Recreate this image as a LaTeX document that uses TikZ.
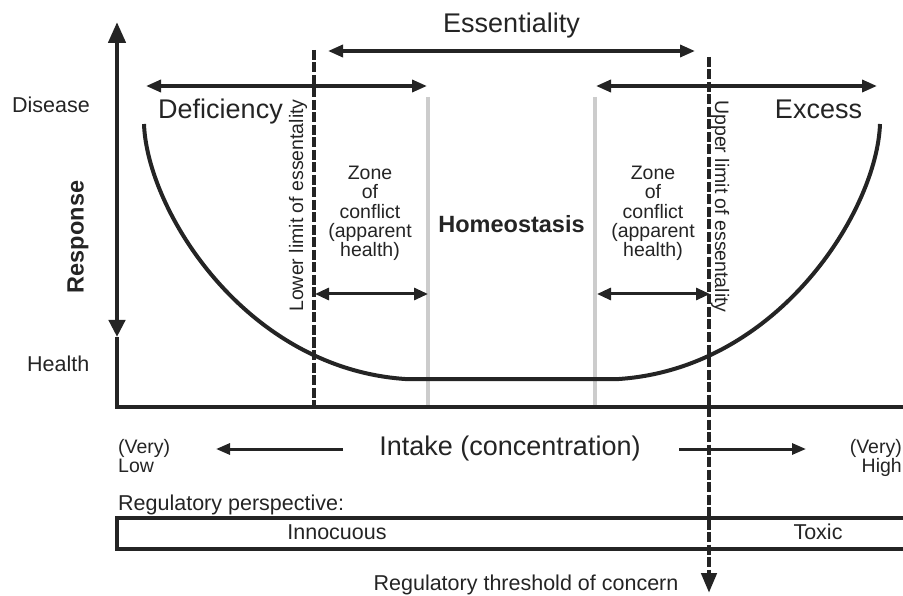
\documentclass[tikz,border=0pt]{standalone}
\usepackage{fontspec}
\setmainfont{Liberation Sans}
\usetikzlibrary{arrows.meta}
\definecolor{ink}{rgb}{.14,.14,.14}
\definecolor{zonegray}{rgb}{.8,.8,.8}

\begin{document}
\begin{tikzpicture}[x=1pt,y=-1pt,
    every node/.style={text=ink,inner sep=0pt},
    big/.style={font=\fontsize{27}{30}\selectfont},
    lbl/.style={font=\fontsize{21.5}{21}\selectfont},
    small/.style={font=\fontsize{19.5}{19.3}\selectfont},
    heavy/.style={font=\fontsize{23.5}{26}\selectfont\bfseries},
    curve/.style={line width=4pt,draw=ink},
    limit/.style={line width=4.5pt,draw=ink,dash pattern=on 10pt off 2.5pt},
    zoneline/.style={line width=4pt,draw=zonegray},
    span/.style={line width=3.5pt,draw=ink,
      {Triangle[length=15pt,width=12pt]}-{Triangle[length=15pt,width=12pt]}},
    zonespan/.style={line width=3pt,draw=ink,
      {Triangle[length=14pt,width=12pt]}-{Triangle[length=14pt,width=12pt]}},
    dir/.style={line width=3pt,draw=ink,-{Triangle[length=14pt,width=11pt]}}]
  \clip (0,0) rectangle (903,596);

  % zone borders (grey)
  \draw[zoneline] (428,97) -- (428,407);
  \draw[zoneline] (595,97) -- (595,407);

  % axes
  \coordinate (top) at (117,22);
  \coordinate (down) at (117,337);
  \coordinate (o) at (117,407);
  \coordinate (xend) at (915,407);
  \draw[line width=4.5pt,draw=ink,
    {Triangle[length=17pt,width=16pt]}-{Triangle[length=21pt,width=17pt]}] (down) -- (top);
  \draw[line width=4.5pt,draw=ink] (down) -- (o) -- (xend);

  % limits of essentiality
  \coordinate (lowtop) at (314,50);
  \coordinate (lowbot) at (314,407);
  \coordinate (uptop) at (709,57);
  \coordinate (upbot) at (709,593);
  \draw[limit] (lowtop) -- (lowbot);
  \draw[limit,-{Triangle[length=20pt,width=15pt]}] (uptop) -- (upbot);

  % response curve
  \draw[curve] (144,124) .. controls (147,210) and (245,368) .. (405,379)
    -- (619,379) .. controls (779,368) and (877,210) .. (880,124);

  % ranges
  \node[big,anchor=base] (ess) at (511.5,33) {Essentiality};
  \coordinate (essL) at (328,51);
  \coordinate (essR) at (695,51);
  \draw[span] (essL) -- (essR);
  \coordinate (defL) at (146,86);
  \coordinate (defR) at (427,86);
  \draw[span] (defL) -- (defR);
  \coordinate (excL) at (596,86);
  \coordinate (excR) at (877,86);
  \draw[span] (excL) -- (excR);
  \node[big,anchor=base] (defi) at (220.5,119) {Deficiency};
  \node[big,anchor=base] (exc) at (818.5,118.5) {Excess};

  \node[lbl,anchor=base west] (dis) at (12,113) {Disease};
  \node[lbl,anchor=base west] (hlth) at (27,371.5) {Health};
  \node[heavy,anchor=base,rotate=90] (resp) at (83.5,237) {Response};

  % zones of conflict
  \node[small,align=center,anchor=north] (zoneL) at (370,166)
    {Zone\\of\\conflict\\(apparent\\health)};
  \node[small,align=center,anchor=north] (zoneR) at (653,166)
    {Zone\\of\\conflict\\(apparent\\health)};
  \coordinate (zlA) at (315,294);
  \coordinate (zlB) at (428,294);
  \coordinate (zrA) at (597,294);
  \coordinate (zrB) at (710,294);
  \draw[zonespan] (zlA) -- (zlB);
  \draw[zonespan] (zrA) -- (zrB);
  \node[heavy,anchor=base] (homeo) at (511.5,232.5) {Homeostasis};

  \node[small,anchor=base,rotate=90] (lowlim) at (303,205.5) {Lower limit of essentality};
  \node[small,anchor=base,rotate=-90] (uplim) at (715,206.5) {Upper limit of essentality};

  % intake
  \node[small,align=left,anchor=north west] (vlow) at (118,439) {(Very)\\Low};
  \node[small,align=right,anchor=north east] (vhigh) at (902,439) {(Very)\\High};
  \node[big,anchor=base] (intake) at (510,455) {Intake (concentration)};
  \coordinate (inL) at (343,449);
  \coordinate (inLtip) at (216,449);
  \coordinate (inR) at (679,449);
  \coordinate (inRtip) at (806,449);
  \draw[dir] (inL) -- (inLtip);
  \draw[dir] (inR) -- (inRtip);

  % regulatory view
  \node[lbl,anchor=base west] (regp) at (118,510) {Regulatory perspective:};
  \draw[line width=4pt,draw=ink] (117,518) rectangle (915,549);
  \node[lbl,anchor=base] (innoc) at (337,539.5) {Innocuous};
  \node[lbl,anchor=base] (toxic) at (818,539.5) {Toxic};
  \node[lbl,anchor=base] (thresh) at (526,590) {Regulatory threshold of concern};
\end{tikzpicture}
\end{document}
